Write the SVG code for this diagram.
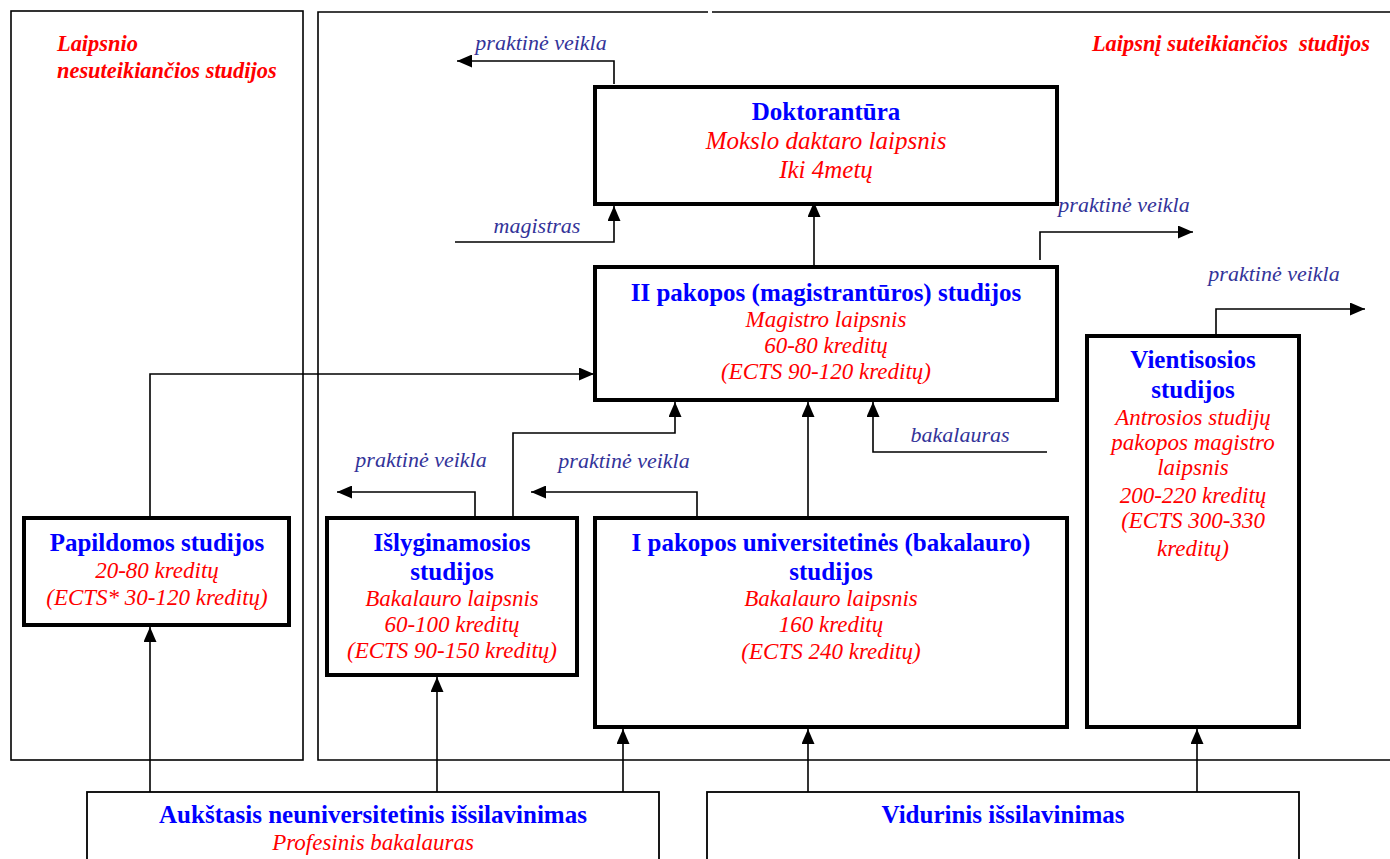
<svg xmlns="http://www.w3.org/2000/svg" width="1390" height="859" viewBox="0 0 1390 859">
<style>
.panel{fill:none;stroke:#000;stroke-width:1.6}
.box{fill:#fff;stroke:#000;stroke-width:4}
.base{fill:#fff;stroke:#000;stroke-width:1.8}
.con{fill:none;stroke:#000;stroke-width:1.6}
text{font-family:"Liberation Serif","Times New Roman",serif;text-anchor:middle}
.h{font-weight:bold;fill:#0000ff;font-size:25px}
.r{font-style:italic;fill:#ff0000;font-size:23px}
.rb{font-size:25px}
.l{font-style:italic;fill:#333399;font-size:22px}
.t{font-style:italic;font-weight:bold;fill:#ff0000;font-size:22.4px}
</style>
<defs>
<marker id="ah" markerWidth="15" markerHeight="13" refX="15" refY="6.5" orient="auto" markerUnits="userSpaceOnUse"><path d="M0,0 L15,6.5 L0,13 z" fill="#000"/></marker>
</defs>
<rect width="1390" height="859" fill="#fff"/>
<g id="panels">
<rect class="panel" x="11" y="11" width="292" height="749"/>
<path class="panel" d="M1392,760 H318 V12 H708 M712,12 H1392"/>
<text class="t" x="57" y="51" style="text-anchor:start">Laipsnio</text>
<text class="t" x="57" y="78" style="text-anchor:start">nesuteikiančios studijos</text>
<text class="t" x="1370" y="51" style="text-anchor:end" xml:space="preserve">Laipsnį suteikiančios  studijos</text>
</g>
<g id="connectors">
<path class="con" d="M614,84 V61 H457" marker-end="url(#ah)"/>
<path class="con" d="M455,242 H614 V206" marker-end="url(#ah)"/>
<path class="con" d="M814,265 V202" marker-end="url(#ah)"/>
<path class="con" d="M1040,260 V232 H1193" marker-end="url(#ah)"/>
<path class="con" d="M1216,334 V309 H1365" marker-end="url(#ah)"/>
<path class="con" d="M150,517 V374 H594" marker-end="url(#ah)"/>
<path class="con" d="M513,517 V433 H675 V402" marker-end="url(#ah)"/>
<path class="con" d="M808,517 V402" marker-end="url(#ah)"/>
<path class="con" d="M1047,452 H873 V402" marker-end="url(#ah)"/>
<path class="con" d="M475,517 V492 H337" marker-end="url(#ah)"/>
<path class="con" d="M697,517 V492 H531" marker-end="url(#ah)"/>
<path class="con" d="M150,792 V627" marker-end="url(#ah)"/>
<path class="con" d="M437,792 V677" marker-end="url(#ah)"/>
<path class="con" d="M623,792 V729" marker-end="url(#ah)"/>
<path class="con" d="M808,792 V729" marker-end="url(#ah)"/>
<path class="con" d="M1197,792 V729" marker-end="url(#ah)"/>
<text class="l" x="541" y="50">praktinė veikla</text>
<text class="l" x="537" y="233">magistras</text>
<text class="l" x="1124" y="212">praktinė veikla</text>
<text class="l" x="1274" y="281">praktinė veikla</text>
<text class="l" x="960" y="442">bakalauras</text>
<text class="l" x="421" y="467">praktinė veikla</text>
<text class="l" x="624" y="468">praktinė veikla</text>
</g>
<g id="doktorantura">
<rect class="box" x="595" y="87" width="462" height="117"/>
<text class="h" x="826" y="120">Doktorantūra</text>
<text class="r rb" x="826" y="149">Mokslo daktaro laipsnis</text>
<text class="r rb" x="826" y="178">Iki 4metų</text>
</g>
<g id="magistrantura">
<rect class="box" x="595" y="267" width="462" height="133"/>
<text class="h" x="826" y="301">II pakopos (magistrantūros) studijos</text>
<text class="r" x="826" y="327">Magistro laipsnis</text>
<text class="r" x="826" y="353">60-80 kreditų</text>
<text class="r" x="826" y="379">(ECTS 90-120 kreditų)</text>
</g>
<g id="vientisosios">
<rect class="box" x="1087" y="336" width="212" height="391"/>
<text class="h" x="1193" y="368">Vientisosios</text>
<text class="h" x="1193" y="398">studijos</text>
<text class="r" x="1193" y="425">Antrosios studijų</text>
<text class="r" x="1193" y="450">pakopos magistro</text>
<text class="r" x="1193" y="475">laipsnis</text>
<text class="r" x="1193" y="503">200-220 kreditų</text>
<text class="r" x="1193" y="528">(ECTS 300-330</text>
<text class="r" x="1193" y="556">kreditų)</text>
</g>
<g id="papildomos">
<rect class="box" x="24" y="518" width="265" height="107"/>
<text class="h" x="157" y="551">Papildomos studijos</text>
<text class="r" x="157" y="578">20-80 kreditų</text>
<text class="r" x="157" y="605">(ECTS* 30-120 kreditų)</text>
</g>
<g id="islyginamosios">
<rect class="box" x="327" y="518" width="250" height="157"/>
<text class="h" x="452" y="551">Išlyginamosios</text>
<text class="h" x="452" y="580">studijos</text>
<text class="r" x="452" y="606">Bakalauro laipsnis</text>
<text class="r" x="452" y="632">60-100 kreditų</text>
<text class="r" x="452" y="658">(ECTS 90-150 kreditų)</text>
</g>
<g id="bakalauro">
<rect class="box" x="595" y="518" width="472" height="209"/>
<text class="h" x="831" y="551">I pakopos universitetinės (bakalauro)</text>
<text class="h" x="831" y="580">studijos</text>
<text class="r" x="831" y="606">Bakalauro laipsnis</text>
<text class="r" x="831" y="632">160 kreditų</text>
<text class="r" x="831" y="659">(ECTS 240 kreditų)</text>
</g>
<g id="aukstasis">
<rect class="base" x="87" y="792" width="572" height="80"/>
<text class="h" x="373" y="823">Aukštasis neuniversitetinis išsilavinimas</text>
<text class="r" x="373" y="850">Profesinis bakalauras</text>
</g>
<g id="vidurinis">
<rect class="base" x="707" y="792" width="592" height="80"/>
<text class="h" x="1003" y="823">Vidurinis išsilavinimas</text>
</g>
</svg>
